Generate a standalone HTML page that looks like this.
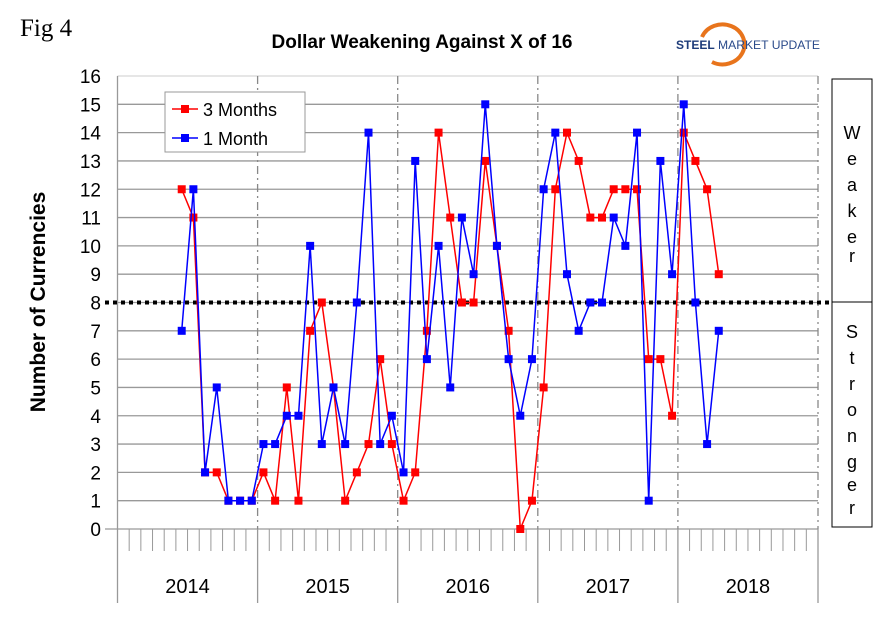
<!DOCTYPE html>
<html><head><meta charset="utf-8"><style>
body{margin:0;background:#fff;}
svg{display:block;font-family:"Liberation Sans",Arial,sans-serif;}
</style></head><body>
<svg id="chart" width="881" height="622" viewBox="0 0 881 622" xmlns="http://www.w3.org/2000/svg">
<text x="20" y="36" font-family="Liberation Serif,serif" font-size="25">Fig 4</text>
<text x="422" y="48" font-size="19" font-weight="bold" text-anchor="middle">Dollar Weakening Against X of 16</text>
<g>
<path d="M702,37 A22,20 0 1 1 712,62" fill="none" stroke="#e8741c" stroke-width="4"/>
<text x="676" y="49" font-size="12" font-weight="bold" fill="#1e3c7a">STEEL</text>
<text x="718" y="49" font-size="12" fill="#2a4a8a" textLength="102" lengthAdjust="spacingAndGlyphs">MARKET UPDATE</text>
</g>
<text transform="translate(45,302) rotate(-90)" font-size="21" font-weight="bold" text-anchor="middle">Number of Currencies</text>
<g id="grid"></g>
<g id="series"></g>
<g>
<rect x="832" y="79" width="40" height="448" fill="none" stroke="#000" stroke-width="1"/>
<line x1="832" y1="302" x2="872" y2="302" stroke="#000"/>
<text font-size="18" text-anchor="middle"><tspan x="852" y="139">W</tspan><tspan x="852" y="165">e</tspan><tspan x="852" y="191">a</tspan><tspan x="852" y="217">k</tspan><tspan x="852" y="243">e</tspan><tspan x="852" y="262">r</tspan></text>
<text font-size="18" text-anchor="middle"><tspan x="852" y="338">S</tspan><tspan x="852" y="364">t</tspan><tspan x="852" y="390">r</tspan><tspan x="852" y="416">o</tspan><tspan x="852" y="442">n</tspan><tspan x="852" y="468">g</tspan><tspan x="852" y="491">e</tspan><tspan x="852" y="514">r</tspan></text>
</g>
<g>
<rect x="165" y="92" width="140" height="60" fill="#fff" stroke="#999"/>
<line x1="172" y1="109" x2="198" y2="109" stroke="#f00" stroke-width="1.5"/><rect x="181" y="105" width="8" height="8" fill="#f00"/>
<text x="203" y="116" font-size="18">3 Months</text>
<line x1="172" y1="138" x2="198" y2="138" stroke="#00f" stroke-width="1.5"/><rect x="181" y="134" width="8" height="8" fill="#00f"/>
<text x="203" y="145" font-size="18">1 Month</text>
</g>
</svg>
<script>
const years=["2014","2015","2016","2017","2018"];
const yTicks=[0,1,2,3,4,5,6,7,8,9,10,11,12,13,14,15,16];
const startIndex=5;
const threeMonths=[12,11,2,2,1,1,1,2,1,5,1,7,8,5,1,2,3,6,3,1,2,7,14,11,8,8,13,10,7,0,1,5,12,14,13,11,11,12,12,12,6,6,4,14,13,12,9];
const oneMonth=[7,12,2,5,1,1,1,3,3,4,4,10,3,5,3,8,14,3,4,2,13,6,10,5,11,9,15,10,6,4,6,12,14,9,7,8,8,11,10,14,1,13,9,15,8,3,7];
const threshold=8;
const L=117.5,R=818,T=76,B=529,NM=60;
const x=i=>L+(i+0.5)*(R-L)/NM;
const y=v=>B-(v/16)*(B-T);
const NS="http://www.w3.org/2000/svg";
function mk(p,t,a){const e=document.createElementNS(NS,t);for(const k in a)e.setAttribute(k,a[k]);p.appendChild(e);return e;}
const g=document.getElementById('grid');
yTicks.forEach(v=>{
 const l=mk(g,'line',{x1:v===0?105:L,x2:R,y1:y(v),y2:y(v),stroke:v===16?'#ccc':'#999','stroke-width':v===16?1:1.3});
 
 
 const t=mk(g,'text',{x:101,y:y(v)+7,'font-size':19,'text-anchor':'end'});t.textContent=v;
 
 
});
mk(g,'line',{x1:L,x2:L,y1:T,y2:603,stroke:'#999','stroke-width':1.3});
for(let m=1;m<NM;m++){if(m%12)mk(g,'line',{x1:L+m*(R-L)/NM,x2:L+m*(R-L)/NM,y1:B,y2:551,stroke:'#999'});}
years.forEach((yr,k)=>{
 const xd=L+(k+1)*(R-L)/years.length;
 mk(g,'line',{x1:xd,x2:xd,y1:T,y2:B,stroke:'#888','stroke-width':1.3,'stroke-dasharray':'8,4,2,4'});
 mk(g,'line',{x1:xd,x2:xd,y1:B,y2:603,stroke:'#999','stroke-width':1.3});
 const t=mk(g,'text',{x:L+(k+0.5)*(R-L)/years.length,y:593,'font-size':20,'text-anchor':'middle'});t.textContent=yr;
 
 
});
const th=mk(g,'line',{x1:105,x2:832,y1:y(threshold),y2:y(threshold),stroke:'#000','stroke-width':4,'stroke-dasharray':'4,4'});


const s=document.getElementById('series');
function draw(arr,col,name){
 const pl=mk(s,'polyline',{points:arr.map((v,i)=>x(i+startIndex)+','+y(v)).join(' '),fill:'none',stroke:col,'stroke-width':1.5});
 
 
 arr.forEach((v,i)=>{const r=mk(s,'rect',{x:x(i+startIndex)-4,y:y(v)-4,width:8,height:8,fill:col});
  
  });
}
draw(threeMonths,'#f00','three-months');
draw(oneMonth,'#00f','one-month');
</script>
</body></html>
